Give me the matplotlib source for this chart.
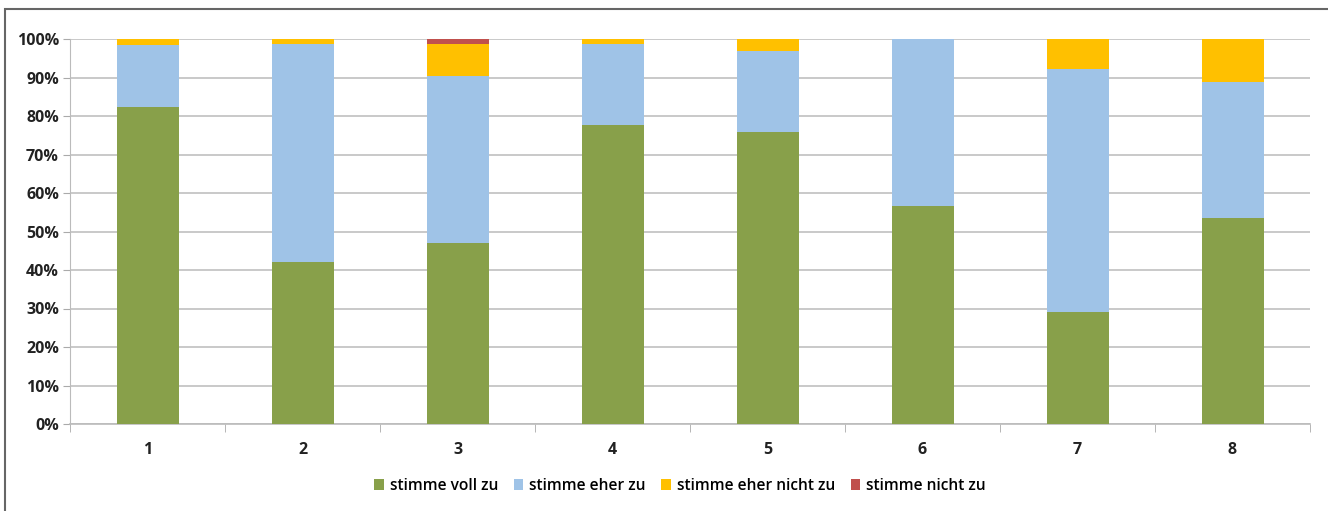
import matplotlib
matplotlib.use("Agg")
import matplotlib.pyplot as plt
import numpy as np
from matplotlib.patches import Rectangle

categories = ["1", "2", "3", "4", "5", "6", "7", "8"]
voll = [82.3, 42.1, 47.0, 77.7, 75.8, 56.6, 29.1, 53.5]
eher = [16.1, 56.6, 43.4, 21.0, 21.1, 43.4, 63.1, 35.3]
eher_nicht = [1.6, 1.3, 8.3, 1.3, 3.1, 0.0, 7.8, 11.2]
nicht = [0.0, 0.0, 1.3, 0.0, 0.0, 0.0, 0.0, 0.0]
series_names = ["stimme voll zu", "stimme eher zu", "stimme eher nicht zu", "stimme nicht zu"]
colors = ["#88A04A", "#9FC3E7", "#FFC000", "#C0504D"]

plt.rcParams['font.family'] = ['Open Sans', 'DejaVu Sans']

fig = plt.figure(figsize=(13.28, 5.11), dpi=100)
ax = fig.add_axes([70/1328, 1-424/511, (1310-70)/1328, (424-39)/511])

x = np.arange(len(categories))
bottom = np.zeros(len(categories))
for vals, name, c in zip([voll, eher, eher_nicht, nicht], series_names, colors):
    ax.bar(x, vals, width=0.4, bottom=bottom, color=c, label=name, zorder=3)
    bottom += np.array(vals)

ax.set_xlim(-0.5, len(categories) - 0.5)
ax.set_ylim(0, 100)
ax.set_yticks(np.arange(0, 101, 10))
ax.set_yticklabels([f"{v}%" for v in range(0, 101, 10)], fontsize=11.5, fontweight='bold', color="#222222")
ax.set_xticks(x)
ax.set_xticklabels(categories, fontsize=11.5, fontweight='bold', color="#222222")
ax.set_xticks(np.arange(-0.5, len(categories), 1), minor=True)
ax.tick_params(axis='x', which='major', length=0, pad=13)
ax.tick_params(axis='x', which='minor', length=6, color="#aaaaaa", direction='out')
ax.tick_params(axis='y', length=5, color="#aaaaaa", pad=3)
ax.yaxis.grid(True, color="#c0c0c0", linewidth=1.2, zorder=0)
for s in ['top', 'right']:
    ax.spines[s].set_visible(False)
ax.spines['left'].set_color("#bbbbbb")
ax.spines['bottom'].set_color("#bbbbbb")
ax.spines['bottom'].set_linewidth(1.2)

leg = fig.legend(loc='center', bbox_to_anchor=(680/1328, 1-486/511), ncol=4, frameon=False,
                 prop={'size': 11.2, 'weight': 'semibold'}, handlelength=0.6, handleheight=0.7,
                 handletextpad=0.4, columnspacing=1.0)

fig.patches.append(Rectangle((5/1328, -0.05), 1.1, 1.05 - 9/511, transform=fig.transFigure,
                             fill=False, edgecolor="#666666", linewidth=1.5))

fig.savefig("out.png", dpi=100)
